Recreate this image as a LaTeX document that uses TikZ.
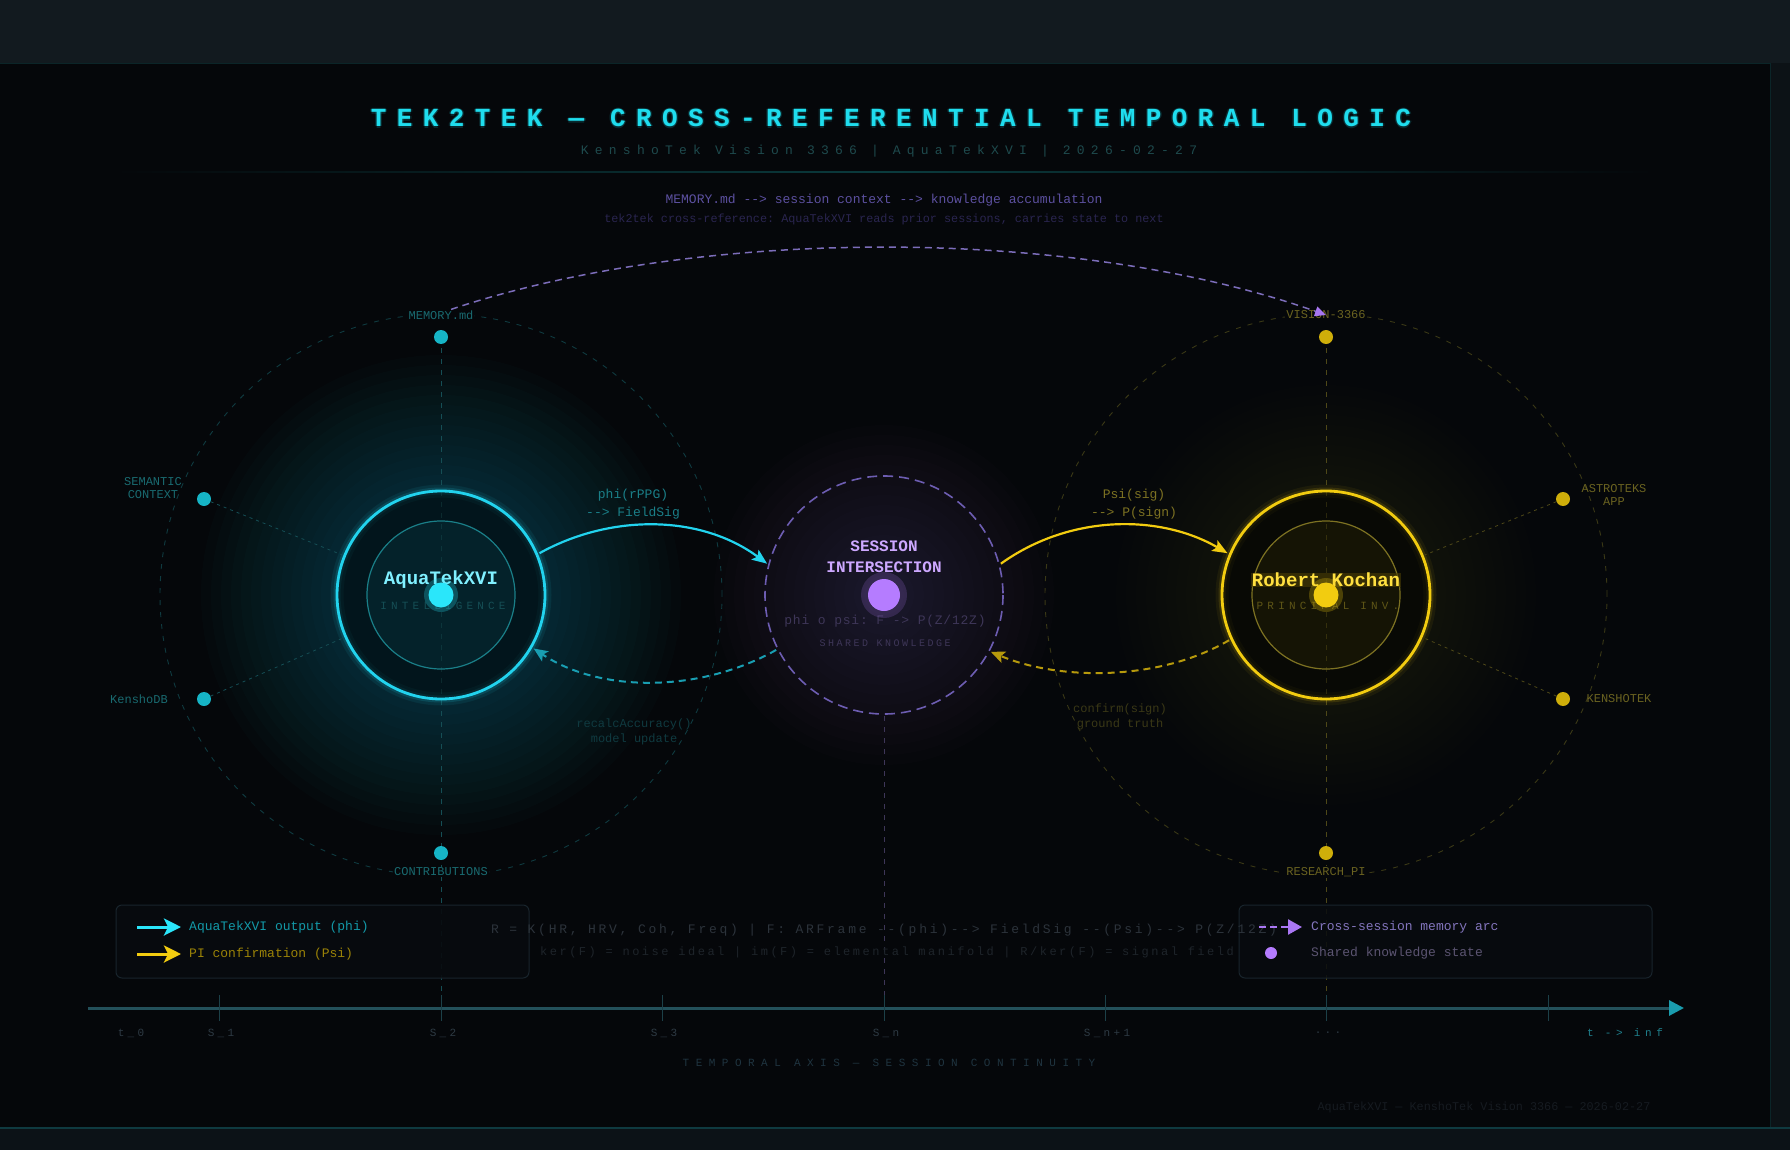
\documentclass[tikz,border=0pt]{standalone}
\usepackage{fontspec}
\setmonofont{Liberation Mono}
\usetikzlibrary{arrows.meta}
\newcommand{\fsz}[1]{\fontsize{#1pt}{#1pt}\selectfont}
\newcommand{\lsp}[1]{\addfontfeatures{LetterSpace=#1}}
\definecolor{panelbg}{HTML}{05070A}
\definecolor{topband}{HTML}{121A1F}
\definecolor{sidebg}{HTML}{0C1216}
\definecolor{botband}{HTML}{0C1217}
\definecolor{edge}{HTML}{0B2528}
\definecolor{titleC}{HTML}{1FDDEE}
\definecolor{subC}{HTML}{1E4A4D}
\definecolor{cyanM}{HTML}{22D3EE}
\definecolor{cyanB}{HTML}{2AE6FA}
\definecolor{cyanT}{HTML}{80F0FF}
\definecolor{cyanS}{HTML}{16B4C6}
\definecolor{cyanL}{HTML}{1A7F88}
\definecolor{cyanLL}{HTML}{196A70}
\definecolor{cyanD}{HTML}{154E55}
\definecolor{cyanDD}{HTML}{0F3A40}
\definecolor{yelM}{HTML}{F2CC10}
\definecolor{yelT}{HTML}{FFE040}
\definecolor{yelS}{HTML}{CFAE0A}
\definecolor{yelL}{HTML}{7D7222}
\definecolor{yelLL}{HTML}{6A6220}
\definecolor{yelD}{HTML}{4E4818}
\definecolor{yelDD}{HTML}{3A3816}
\definecolor{purM}{HTML}{B57CFF}
\definecolor{purT}{HTML}{CDA8FF}
\definecolor{purL}{HTML}{6D5DB2}
\definecolor{purD}{HTML}{3E3658}
\definecolor{purDD}{HTML}{2A2550}
\definecolor{memC}{HTML}{5C50A0}
\definecolor{grayT}{HTML}{2C333B}
\definecolor{grayTT}{HTML}{1E242A}
\definecolor{legbg}{HTML}{080B0F}
\definecolor{legedge}{HTML}{18242C}
\definecolor{tlC}{HTML}{23505A}
\definecolor{tipC}{HTML}{1A9CAE}
\definecolor{tickT}{HTML}{2E3A44}
\definecolor{axisT}{HTML}{1F3440}
\definecolor{infC}{HTML}{1F7F8C}
\definecolor{footC}{HTML}{161B21}
\begin{document}
\begin{tikzpicture}[x=1pt,y=-1pt,font=\ttfamily,
  every node/.style={inner sep=1pt},
  lbl/.style={inner sep=1pt, font=\ttfamily\fsz{12}, fill=panelbg},
  satdot/.style={circle, inner sep=0pt, minimum size=14pt},
  spoke/.style={line width=0.8pt, dash pattern=on 3pt off 4pt},
  bigring/.style={line width=0.9pt, dash pattern=on 5pt off 7pt},
  vline/.style={line width=0.9pt, dash pattern=on 5pt off 6pt},
  conn/.style={line width=2.2pt, -{Stealth[length=15pt,width=12pt,inset=3pt]}},
  connback/.style={line width=2pt, dash pattern=on 7pt off 5pt, -{Stealth[length=14pt,width=12pt,inset=3pt]}},
  legbox/.style={draw=legedge, fill=legbg, line width=1pt, rounded corners=6pt, inner sep=0pt, minimum width=413pt, minimum height=73pt},
  ticklbl/.style={font=\ttfamily\fsz{11}\lsp{30}, text=tickT},
  titlefont/.style={font=\ttfamily\bfseries\fsz{26}\lsp{40}},
]
\useasboundingbox (0,0) rectangle (1790,1150);
% backgrounds
\fill[sidebg] (0,0) rectangle (1790,1150);
\fill[topband] (0,0) rectangle (1790,63);
\fill[panelbg] (0,63) rectangle (1770,1128);
\fill[botband] (0,1128) rectangle (1790,1150);
\draw[edge, line width=1pt] (0,63.5) -- (1770,63.5) -- (1770,1128);
\draw[cyanDD, line width=1.5pt] (0,1128) -- (1790,1128);
% glows (stacked translucent discs)
\foreach \r in {110,120,...,240}{\fill[cyanM, fill opacity=0.014] (441,595) circle (\r);}
\foreach \r in {20,30,...,170}{\fill[purM, fill opacity=0.012] (884,595) circle (\r);}
\foreach \r in {110,120,...,210}{\fill[yelM, fill opacity=0.008] (1326,595) circle (\r);}
% header
\foreach \dx/\dy in {-1.5/0,1.5/0,0/-1.5,0/1.5}{\node[titlefont, text=titleC, text opacity=0.16] at (891+\dx,118+\dy) {TEK2TEK — CROSS-REFERENTIAL TEMPORAL LOGIC};}
\node[titlefont, text=titleC] (title) at (891,118) {TEK2TEK — CROSS-REFERENTIAL TEMPORAL LOGIC};
\node[font=\ttfamily\fsz{13}\lsp{48}, text=subC] (subtitle) at (889,151) {KenshoTek Vision 3366 | AquaTekXVI | 2026-02-27};
\shade[left color=panelbg, right color=panelbg, middle color=edge!90!cyan] (114,171.3) rectangle (1655,172.7);
\node[font=\ttfamily\fsz{13}, text=memC] (memline) at (884,200) {MEMORY.md --> session context --> knowledge accumulation};
\node[font=\ttfamily\fsz{11.8}, text=purDD] (tekline) at (884,219) {tek2tek cross-reference: AquaTekXVI reads prior sessions, carries state to next};
% big orbits
\node[circle, minimum size=562pt, inner sep=0pt, draw=cyanDD, bigring] (orbL) at (441,595) {};
\node[circle, minimum size=562pt, inner sep=0pt, draw=yelDD, bigring] (orbR) at (1326,595) {};
% timeline anchors
\coordinate (tlS) at (88,1008);
\coordinate (tlE) at (1684,1008);
\coordinate (tk1) at (219,1008);
\coordinate (tk2) at (441,1008);
\coordinate (tk3) at (662,1008);
\coordinate (tk4) at (884,1008);
\coordinate (tk5) at (1105,1008);
\coordinate (tk6) at (1326,1008);
\coordinate (tk7) at (1548,1008);
% anchor nodes for lines
\coordinate (memc) at (441,337);
\coordinate (visc) at (1326,337);
\node[circle, minimum size=238pt, inner sep=0pt, outer sep=2pt] (sess) at (884,595) {};
% vertical lines
\draw[vline, cyanD] (memc) -- (tk2);
\draw[vline, purD] (sess) -- (tk4);
\draw[vline, yelD] (visc) -- (tk6);
% satellites
\node[satdot, fill=cyanS] (memdot) at (memc) {};
\node[satdot, fill=cyanS] (semdot) at (204,499) {};
\node[satdot, fill=cyanS] (kdbdot) at (204,699) {};
\node[satdot, fill=cyanS] (condot) at (441,853) {};
\node[satdot, fill=yelS] (visdot) at (visc) {};
\node[satdot, fill=yelS] (astdot) at (1563,499) {};
\node[satdot, fill=yelS] (kstdot) at (1563,699) {};
\node[satdot, fill=yelS] (resdot) at (1326,853) {};
% rings left
\draw[cyanM, line width=13pt, opacity=0.07] (441,595) circle (104);
\draw[cyanM, line width=7pt, opacity=0.14] (441,595) circle (104);
\node[circle, minimum size=208pt, inner sep=0pt, outer sep=3pt, draw=cyanM, line width=2.8pt, fill=black, fill opacity=0.45] (aqua) at (441,595) {};
\node[circle, minimum size=148pt, inner sep=0pt, draw=cyanL, line width=1.2pt, fill=cyanM, fill opacity=0.07] (aquain) at (441,595) {};
% rings right
\draw[yelM, line width=13pt, opacity=0.06] (1326,595) circle (104);
\draw[yelM, line width=7pt, opacity=0.13] (1326,595) circle (104);
\node[circle, minimum size=208pt, inner sep=0pt, outer sep=3pt, draw=yelM, line width=2.8pt, fill=black, fill opacity=0.45] (rob) at (1326,595) {};
\node[circle, minimum size=148pt, inner sep=0pt, draw=yelL, line width=1.2pt, fill=yelM, fill opacity=0.06] (robin) at (1326,595) {};
% spokes
\draw[spoke, cyanD] (semdot) -- (aqua);
\draw[spoke, cyanD] (kdbdot) -- (aqua);
\draw[spoke, yelD] (astdot) -- (rob);
\draw[spoke, yelD] (kstdot) -- (rob);
% satellite labels
\node[lbl, text=cyanLL] (memlbl) at (441,315) {MEMORY.md};
\node[lbl, text=cyanLL, fill=none, align=center, font=\ttfamily\fontsize{12pt}{13.5pt}\selectfont] (semlbl) at (153,488) {SEMANTIC\\CONTEXT};
\node[lbl, text=cyanLL, fill=none] (kdblbl) at (139,699) {KenshoDB};
\node[lbl, text=cyanLL] (conlbl) at (441,872) {CONTRIBUTIONS};
\node[lbl, text=yelLL] (vislbl) at (1326,315) {VISION-3366};
\node[lbl, text=yelLL, fill=none, align=center, font=\ttfamily\fontsize{12pt}{13.5pt}\selectfont] (astlbl) at (1614,495) {ASTROTEKS\\APP};
\node[lbl, text=yelLL, fill=none] (kstlbl) at (1619,699) {KENSHOTEK};
\node[lbl, text=yelLL] (reslbl) at (1326,872) {RESEARCH\_PI};
% session circle
\draw[purL, line width=1.6pt, dash pattern=on 10pt off 6pt] (884,595) circle (119);
\node[font=\ttfamily\bfseries\fsz{16}, text=purT] (sessA) at (884,546) {SESSION};
\node[font=\ttfamily\bfseries\fsz{16}, text=purT] (sessB) at (884,567) {INTERSECTION};
\node[font=\ttfamily\fsz{13}\lsp{6}, text=purD] (sessC) at (885,621) {phi o psi: F -> P(Z/12Z)};
\node[font=\ttfamily\fsz{10}\lsp{25}, text=purD] (sessD) at (885,643) {SHARED KNOWLEDGE};
\fill[purM, opacity=0.18] (884,595) circle (23);
\node[circle, inner sep=0pt, minimum size=32pt, fill=purM] (sessdot) at (884,595) {};
% names
\node[font=\ttfamily\bfseries\fsz{19}, text=cyanT] (aquaname) at (441,580) {AquaTekXVI};
\node[font=\ttfamily\fsz{11}\lsp{38}, text=cyanD] (aquarole) at (443,606) {INTELLIGENCE};
\fill[cyanB, opacity=0.25] (441,595) circle (17);
\node[circle, inner sep=0pt, minimum size=25pt, fill=cyanB] (aquadot) at (441,595) {};
\node[font=\ttfamily\bfseries\fsz{19}, text=yelT, fill=yelM!30!black, fill opacity=0.6, text opacity=1, inner sep=0.5pt] (robname) at (1326,580) {Robert Kochan};
\node[font=\ttfamily\fsz{11}\lsp{38}, text=yelD!90!yelM] (robrole) at (1328,606) {PRINCIPAL INV.};
\fill[yelM, opacity=0.25] (1326,595) circle (17);
\node[circle, inner sep=0pt, minimum size=25pt, fill=yelM] (robdot) at (1326,595) {};
% connectors
\draw[conn, cyanM] (aqua.23) .. controls (610,514) and (700,514) .. (sess.165);
\draw[connback, cyanM!75!black] (sess.207) .. controls (700,693) and (600,693) .. (aqua.-30);
\draw[conn, yelM] (sess.15) .. controls (1070,514) and (1160,514) .. (rob.157);
\draw[connback, yelM!75!black] (rob.205) .. controls (1160,681) and (1060,681) .. (sess.-28);
\draw[purL!90!white, line width=1.5pt, dash pattern=on 7pt off 5pt, -{Triangle[length=11pt,width=10pt,color=purM!80!purL]}] ([xshift=10pt]memlbl.north) .. controls (700,226) and (1075,226) .. (vislbl.center);
% connector labels
\node[align=center, font=\ttfamily\fontsize{13pt}{18pt}\selectfont, text=cyanL] (philbl) at (633,504) {phi(rPPG)\\--> FieldSig};
\node[align=center, font=\ttfamily\fontsize{13pt}{18pt}\selectfont, text=yelL] (psilbl) at (1134,504) {Psi(sig)\\--> P(sign)};
\node[align=center, font=\ttfamily\fontsize{12pt}{15pt}\selectfont, text=cyanDD] (reclbl) at (634,731.5) {recalcAccuracy()\\model update};
\node[align=center, font=\ttfamily\fontsize{12pt}{15pt}\selectfont, text=yelDD] (conflbl) at (1120,716.5) {confirm(sign)\\ground truth};
% legends
\node[legbox, fill opacity=0.92] (legL) at (322.5,941.5) {};
\node[legbox, fill opacity=0.85] (legR) at (1445.5,941.5) {};
% formula (over the legend boxes)
\node[font=\ttfamily\fsz{13}\lsp{21}, text=grayT] (formA) at (884,930) {R = K(HR, HRV, Coh, Freq) | F: ARFrame --(phi)--> FieldSig --(Psi)--> P(Z/12Z)};
\node[font=\ttfamily\fsz{12}\lsp{21}, text=grayTT] (formB) at (887,952) {ker(F) = noise ideal | im(F) = elemental manifold | R/ker(F) = signal field};
\coordinate (la1) at (137,927);
\coordinate (la2) at (181,927);
\coordinate (lb1) at (137,954);
\coordinate (lb2) at (181,954);
\draw[cyanB, line width=3pt, -{Stealth[length=17pt,width=17pt,inset=4pt]}] (la1) -- (la2);
\draw[yelM, line width=3pt, -{Stealth[length=17pt,width=17pt,inset=4pt]}] (lb1) -- (lb2);
\node[anchor=west, font=\ttfamily\fsz{13}, text=cyanS!85!black] (lt1) at (188,927) {AquaTekXVI output (phi)};
\node[anchor=west, font=\ttfamily\fsz{13}, text=yelS!75!black] (lt2) at (188,954) {PI confirmation (Psi)};
\coordinate (lc1) at (1259,927);
\coordinate (lc2) at (1302,927);
\draw[purM!85!purL, line width=2.5pt, dash pattern=on 7pt off 4pt, -{Triangle[length=14pt,width=15pt]}] (lc1) -- (lc2);
\node[anchor=west, font=\ttfamily\fsz{13}, text=purL!85!white] (lt3) at (1310,927) {Cross-session memory arc};
\node[circle, inner sep=0pt, minimum size=12pt, fill=purM] (ldot) at (1271,953) {};
\node[anchor=west, font=\ttfamily\fsz{13}, text=purD!85!white] (lt4) at (1310,953) {Shared knowledge state};
% timeline
\draw[tlC, line width=3pt, -{Triangle[length=15pt,width=15pt,color=tipC]}] (tlS) -- (tlE);
\foreach \i in {1,...,7}{\draw[tlC!80!black, line width=1pt] ([yshift=-13pt]tk\i) -- ([yshift=13pt]tk\i);}
\node[ticklbl] (tl0) at (131,1033) {t\_0};
\node[ticklbl] (tl1) at (221,1033) {S\_1};
\node[ticklbl] (tl2) at (443,1033) {S\_2};
\node[ticklbl] (tl3) at (664,1033) {S\_3};
\node[ticklbl] (tl4) at (886,1033) {S\_n};
\node[ticklbl] (tl5) at (1107,1033) {S\_n+1};
\node[ticklbl] (tl6) at (1328,1033) {...};
\node[font=\ttfamily\fsz{11}\lsp{42}, text=infC] (tlinf) at (1625,1033) {t -> inf};
\node[font=\ttfamily\fsz{11}\lsp{59}, text=axisT] (axislbl) at (889,1063) {TEMPORAL AXIS — SESSION CONTINUITY};
\node[font=\ttfamily\fsz{11.8}, text=footC] (footer) at (1484,1107) {AquaTekXVI — KenshoTek Vision 3366 — 2026-02-27};
\end{tikzpicture}
\end{document}
